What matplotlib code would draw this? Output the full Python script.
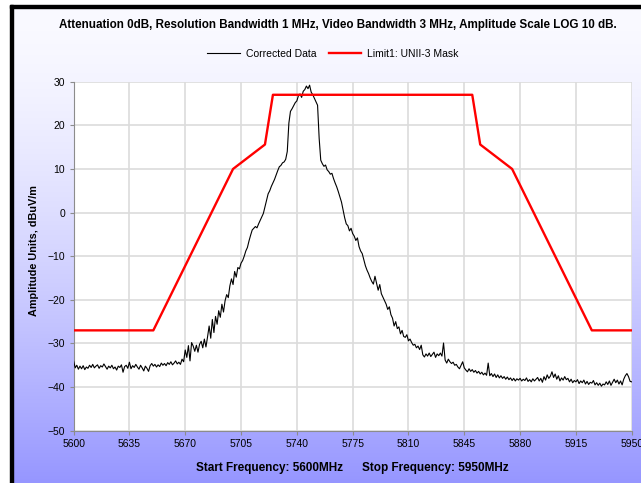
import numpy as np
import matplotlib
matplotlib.use("Agg")
import matplotlib.pyplot as plt
from matplotlib.patches import Rectangle

plt.rcParams['font.family'] = ['Liberation Sans', 'DejaVu Sans']

# UNII-3 limit mask breakpoints (MHz, dBuV/m)
mask_freq = [5600, 5650, 5700, 5720, 5725, 5850, 5855, 5875, 5925, 5950]
mask_level = [-27, -27, 10, 15.6, 27, 27, 15.6, 10, -27, -27]

# corrected trace, one reading per MHz from 5600 to 5950
trace_start = 5600
trace_level = [
    -34.0, -35.6, -35.0, -35.9, -35.2, -35.8, -35.1, -36.0, -35.4, -35.7,
    -35.0, -35.5, -34.8, -35.6, -35.2, -34.9, -35.7, -35.1, -35.4, -34.7,
    -35.3, -35.9, -35.2, -35.6, -35.0, -35.8, -35.4, -36.1, -35.2, -35.5,
    -34.9, -36.6, -35.3, -35.0, -35.7, -34.3, -35.8, -35.1, -35.5, -34.8,
    -35.4, -35.9, -35.0, -35.6, -36.3, -35.2, -35.7, -36.4, -35.1, -34.6,
    -35.2, -34.8, -35.4, -34.9, -35.3, -34.5, -35.0, -34.6, -35.1, -34.4,
    -34.8, -34.2, -34.9, -34.5, -34.0, -34.7, -34.3, -34.8, -33.6, -34.2,
    -31.5, -33.2, -30.5, -34.0, -29.8, -30.6, -31.8, -30.4, -32.0, -30.2,
    -29.5, -31.0, -29.0, -30.8, -28.5, -26.0, -28.8, -24.5, -27.5, -23.8,
    -25.6, -22.5, -24.0, -21.0, -22.8, -20.2, -18.8, -19.5, -16.8, -15.2,
    -16.5, -13.5, -14.8, -12.6, -12.9, -11.6, -11.0, -10.0, -8.8, -8.0,
    -6.5, -5.2, -4.0, -3.6, -3.2, -3.5, -2.6, -1.8, -1.0, -0.2,
    1.3, 2.8, 4.3, 5.0, 6.0, 6.8, 7.6, 8.6, 9.6, 10.5,
    10.8, 11.4, 11.6, 12.2, 14.0, 20.5, 23.2, 23.8, 24.5, 25.2,
    25.6, 26.8, 27.2, 26.4, 27.8, 28.2, 29.0, 28.4, 29.2, 27.6,
    27.0, 26.2, 25.4, 24.6, 17.0, 12.0, 11.2, 10.6, 10.9, 9.8,
    9.4, 8.8, 9.0, 7.8, 6.8, 5.9, 4.8, 3.6, 2.4, 0.6,
    -1.2, -2.6, -3.0, -4.2, -3.6, -4.8, -5.4, -6.4, -5.8, -7.8,
    -8.8, -9.4, -10.8, -12.2, -13.2, -14.0, -15.0, -15.8, -16.4, -14.6,
    -16.2, -17.8, -16.5, -18.6, -19.4, -20.2, -21.0, -22.2, -21.6, -23.4,
    -24.2, -26.0, -25.0, -26.6, -26.2, -27.8, -27.0, -28.4, -28.6, -28.0,
    -29.4, -29.0, -29.8, -30.4, -30.2, -31.0, -30.6, -31.4, -30.4, -32.6,
    -33.1, -32.4, -32.9, -32.2, -33.0, -32.5, -32.0, -33.2, -32.4, -32.8,
    -32.2, -32.9, -29.9, -33.8, -34.5, -33.6, -34.2, -34.6, -34.3, -35.0,
    -34.8, -35.4, -35.8, -35.0, -34.2, -35.6, -36.1, -36.5, -35.8, -36.4,
    -36.0, -36.6, -36.2, -36.8, -36.4, -37.0, -36.6, -37.2, -36.8, -37.3,
    -34.5, -37.4, -36.9, -37.6, -37.0, -37.8, -37.2, -37.9, -37.4, -38.0,
    -37.6, -38.2, -37.7, -38.3, -37.9, -38.5, -38.0, -38.6, -38.1, -38.4,
    -38.0, -38.6, -38.2, -38.5, -37.9, -38.7, -38.3, -38.8, -38.1, -38.6,
    -38.2, -37.8, -38.6, -38.0, -38.9, -37.6, -38.4, -37.2, -38.0, -37.5,
    -36.5, -37.8, -37.0, -38.2, -37.4, -38.6, -37.9, -38.4, -37.6, -38.3,
    -38.0, -38.8, -38.2, -39.0, -38.5, -38.8, -38.3, -39.2, -38.6, -39.0,
    -38.4, -39.3, -38.7, -39.4, -38.9, -39.1, -38.5, -39.5, -39.0, -39.6,
    -39.1, -39.8, -39.3, -39.5, -38.8, -39.4, -38.6, -39.6, -38.9, -38.2,
    -39.0, -38.4, -39.3, -38.6, -39.5, -38.2, -37.4, -36.9, -37.6, -38.7,
    -38.8,
]
trace_freq = trace_start + np.arange(len(trace_level))

x_ticks = [5600, 5635, 5670, 5705, 5740, 5775, 5810, 5845, 5880, 5915, 5950]
y_ticks = [-50, -40, -30, -20, -10, 0, 10, 20, 30]

title = "Attenuation 0dB, Resolution Bandwidth 1 MHz, Video Bandwidth 3 MHz, Amplitude Scale LOG 10 dB."

W, H = 641, 483
fig = plt.figure(figsize=(W / 100, H / 100), dpi=100, facecolor='white')

# lavender gradient panel behind the chart
bg = fig.add_axes([13 / W, 0, 1 - 13 / W, 475 / H], zorder=-5)
t = np.linspace(0, 1, 256) ** 1.5
top = np.array([250, 250, 255]) / 255
bot = np.array([150, 150, 255]) / 255
grad = (top[None, :] * (1 - t[:, None]) + bot[None, :] * t[:, None])[:, None, :]
bg.imshow(grad, aspect='auto', extent=[0, 1, 0, 1], origin='upper')
bg.set_axis_off()

# black frame on the left and top edges
fig.patches.append(Rectangle((10 / W, 0), 3 / W, 478 / H, transform=fig.transFigure,
                             color='black', zorder=10))
fig.patches.append(Rectangle((10 / W, 475 / H), 1, 3 / H, transform=fig.transFigure,
                             color='black', zorder=10))

ax = fig.add_axes([73.6 / W, 52.3 / H, 558.1 / W, 349 / H])
ax.set_facecolor('white')
ax.plot(trace_freq, trace_level, color='black', lw=0.8, label='Corrected Data', zorder=3)
ax.plot(mask_freq, mask_level, color='#ff0000', lw=1.7, label='Limit1: UNII-3 Mask', zorder=4)

ax.set_xlim(5600, 5950)
ax.set_ylim(-50, 30)
ax.set_xticks(x_ticks)
ax.set_yticks(y_ticks)
ax.grid(True, color='#dcdcdc', lw=1.2, zorder=0)
ax.set_axisbelow(True)
for side in ('top', 'right'):
    ax.spines[side].set_visible(False)
for side in ('left', 'bottom'):
    ax.spines[side].set_color('#8c8c8c')
    ax.spines[side].set_linewidth(0.8)
ax.tick_params(direction='out', length=3, width=0.8, color='#8c8c8c',
               labelsize=7.5, pad=3)

ax.set_ylabel('Amplitude Units, dBuV/m', fontsize=7.8, fontweight='bold')
ax.yaxis.set_label_coords(-0.062, 0.515)

fig.text(337.5 / W, 1 - 25 / H, title, ha='center', va='center',
         fontsize=8.4, fontweight='bold')
fig.text(343 / W, 15 / H, 'Start Frequency: 5600MHz', ha='right', va='center',
         fontsize=8.5, fontweight='bold')
fig.text(362 / W, 15 / H, 'Stop Frequency: 5950MHz', ha='left', va='center',
         fontsize=8.5, fontweight='bold')

fig.legend(loc='center', bbox_to_anchor=(333 / W, 1 - 54 / H), ncol=2, frameon=False,
           fontsize=7.5, handlelength=3.1, handletextpad=0.6, columnspacing=1.2)

fig.savefig('out.png', dpi=100)
